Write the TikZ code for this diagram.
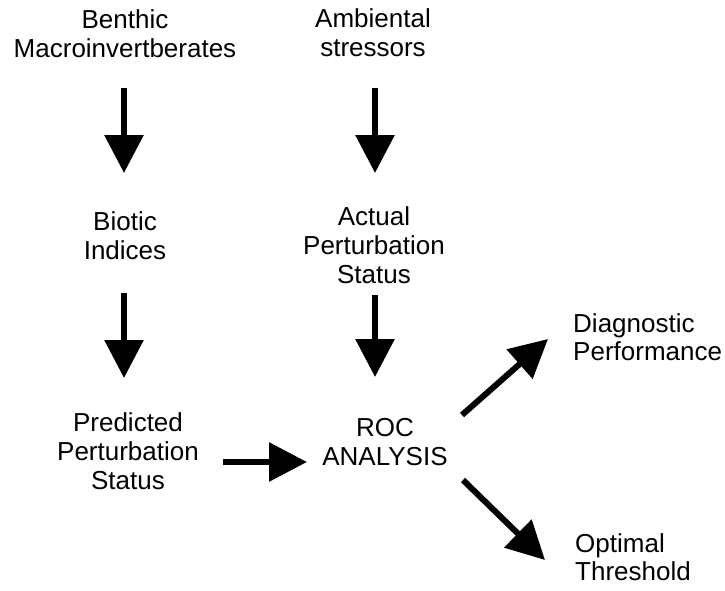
\documentclass[tikz,border=0pt]{standalone}
\usepackage{fontspec}
\setmainfont{Liberation Sans}
\usetikzlibrary{arrows.meta}
\begin{document}
\begin{tikzpicture}[x=1pt,y=-1pt,
  lbl/.style={inner sep=0pt,align=center,font=\fontsize{26}{29}\selectfont},
  lbll/.style={inner sep=0pt,align=left,anchor=west,font=\fontsize{26}{28}\selectfont},
  arr/.style={line width=6pt,-{Triangle[width=38pt,length=38pt]}}]
\useasboundingbox (0,0) rectangle (725,590);
\node[lbl] (benthic) at (125,34) {Benthic\\Macroinvertberates};
\node[lbl] (ambient) at (373,33) {Ambiental\\stressors};
\node[lbl] (biotic) at (125,236) {Biotic\\Indices};
\node[lbl] (actual) at (374,245) {Actual\\Perturbation\\Status};
\node[lbl] (pred) at (128,451) {Predicted\\Perturbation\\Status};
\node[lbl] (roc) at (385,442) {ROC\\ANALYSIS};
\node[lbll] (diag) at (573,337) {Diagnostic\\Performance};
\node[lbll] (opt) at (575,557) {Optimal\\Threshold};
\draw[arr] ([shift={(-1,54)}]benthic.center) -- ([shift={(-1,-63)}]biotic.center);
\draw[arr] ([shift={(2,55)}]ambient.center) -- ([shift={(1,-72)}]actual.center);
\draw[arr] ([shift={(-1,57)}]biotic.center) -- ([shift={(-4,-73)}]pred.center);
\draw[arr] ([shift={(1,50)}]actual.center) -- ([shift={(-10,-65)}]roc.center);
\draw[arr] ([shift={(95,11)}]pred.center) -- ([shift={(-78,20)}]roc.center);
\draw[arr] ([shift={(77,-27)}]roc.center) -- ([shift={(-25,2)}]diag.west);
\draw[arr] ([shift={(78,38)}]roc.center) -- ([shift={(-30,3)}]opt.west);
\end{tikzpicture}
\end{document}
